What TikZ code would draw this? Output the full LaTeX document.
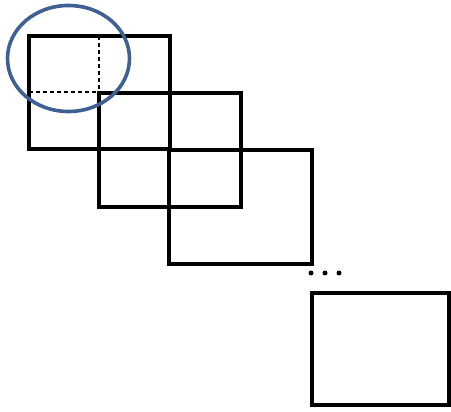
\documentclass[tikz,border=0pt]{standalone}
\definecolor{ringblue}{RGB}{62,96,146}
\tikzset{
  sq/.style={draw=black, line width=4pt, line join=miter},
  guide/.style={draw=black, line width=1.4pt, dash pattern=on 4pt off 3pt},
  ring/.style={draw=ringblue, line width=3.6pt},
  dotmark/.style={fill=black}
}
\begin{document}
\begin{tikzpicture}[x=1pt,y=-1pt]
\useasboundingbox (0,0) rectangle (451,412);
% squares
\draw[sq] (29,36) rectangle (170,149);
\draw[sq] (99,93) rectangle (241,207);
\draw[sq] (169,150) rectangle (312,264);
\draw[sq] (312,293) rectangle (449,405);
% dashed guides
\draw[guide] (99,36) -- (99,93);
\draw[guide] (29,92) -- (99,92);
% dots
\fill[dotmark] (311,273) circle (2.5);
\fill[dotmark] (325,273) circle (2.5);
\fill[dotmark] (339,273) circle (2.5);
% ellipse
\draw[ring] (68.5,58.5) ellipse (61 and 53);
\end{tikzpicture}
\end{document}
